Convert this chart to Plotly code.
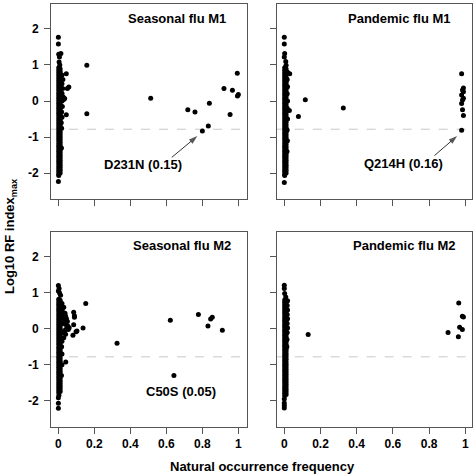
import plotly.graph_objects as go

W, H = 473, 474

panel_titles = ["Seasonal flu M1", "Pandemic flu M1", "Seasonal flu M2", "Pandemic flu M2"]
x_tick_vals = [0, 0.2, 0.4, 0.6, 0.8, 1]
x_tick_text = ["0", "0.2", "0.4", "0.6", "0.8", "1"]
y_tick_vals = [-2, -1, 0, 1, 2]
y_tick_text = ["-2", "-1", "0", "1", "2"]
threshold = -0.78
x_title = "Natural occurrence frequency"
y_title = "Log10 RF index<sub>max</sub>"

# (natural occurrence frequency, log10 RF index max)
seasonal_m1 = [
    (0.0, 1.77), (0.0, 1.58), (0.002, 1.30), (0.014, 1.32), (0.006, 1.22), (0.004, 1.08), (0.008, 1.00),
    (0.002, 0.92), (0.002, 0.85), (0.002, 0.78), (0.002, 0.71), (0.002, 0.64), (0.002, 0.57), (0.002, 0.50),
    (0.002, 0.43), (0.002, 0.36), (0.002, 0.29), (0.002, 0.22), (0.002, 0.15), (0.002, 0.08), (0.002, 0.01),
    (0.002, -0.06), (0.002, -0.13), (0.002, -0.20), (0.002, -0.27), (0.002, -0.34), (0.002, -0.41),
    (0.002, -0.48), (0.002, -0.55), (0.002, -0.62), (0.002, -0.69), (0.002, -0.76), (0.002, -0.83),
    (0.002, -0.90), (0.002, -0.97), (0.002, -1.04), (0.002, -1.11), (0.002, -1.18), (0.002, -1.25),
    (0.002, -1.32), (0.002, -1.39), (0.002, -1.46), (0.002, -1.53), (0.002, -1.60), (0.002, -1.67),
    (0.002, -1.74), (0.002, -1.81), (0.002, -1.88), (0.002, -1.95), (0.002, -2.02), (0.002, -2.06),
    (0.010, 0.89), (0.010, 0.81), (0.010, 0.74), (0.010, 0.66), (0.010, 0.59), (0.010, 0.52), (0.010, 0.46),
    (0.010, 0.39), (0.010, 0.32), (0.010, 0.25), (0.010, 0.18), (0.010, 0.11), (0.010, 0.04), (0.010, -0.03),
    (0.010, -0.10), (0.010, -0.17), (0.010, -0.24), (0.010, -0.31), (0.010, -0.38), (0.010, -0.45),
    (0.010, -0.52), (0.010, -0.59), (0.010, -0.66), (0.010, -0.73), (0.010, -0.80), (0.010, -0.87),
    (0.010, -0.94), (0.010, -1.01), (0.010, -1.08), (0.010, -1.15), (0.010, -1.22), (0.010, -1.29),
    (0.010, -1.36), (0.010, -1.43), (0.010, -1.50), (0.010, -1.57), (0.010, -1.64), (0.010, -1.71),
    (0.010, -1.78), (0.010, -1.85), (0.010, -1.92), (0.010, -1.99),
    (0.020, 0.72), (0.025, 0.60), (0.020, 0.48), (0.024, 0.35), (0.020, 0.22), (0.026, 0.12), (0.020, 0.00),
    (0.022, -0.15), (0.018, -0.30), (0.020, -0.45), (0.016, -0.60), (0.018, -0.75),
    (0.044, 0.76), (0.058, 0.39), (0.050, 0.35), (0.035, 0.07), (0.028, 0.04), (0.044, -0.38),
    (0.017, -1.30), (0.0, -2.23),
    (0.158, 0.99), (0.158, -0.35), (0.513, 0.075), (0.719, -0.24), (0.759, -0.30), (0.839, -0.06),
    (0.833, -0.69), (0.800, -0.83), (0.920, 0.35), (0.967, 0.30), (0.994, 0.77), (0.995, 0.14),
    (1.0, 0.18), (0.954, -0.37),
]

pandemic_m1 = [
    (0.0, 1.77), (0.0, 1.58), (0.002, 1.32), (0.0, 1.22), (0.008, 1.10), (0.010, 0.99),
    (0.002, 0.92), (0.002, 0.85), (0.002, 0.78), (0.002, 0.71), (0.002, 0.64), (0.002, 0.57), (0.002, 0.50),
    (0.002, 0.43), (0.002, 0.36), (0.002, 0.29), (0.002, 0.22), (0.002, 0.15), (0.002, 0.08), (0.002, 0.01),
    (0.002, -0.06), (0.002, -0.13), (0.002, -0.20), (0.002, -0.27), (0.002, -0.34), (0.002, -0.41),
    (0.002, -0.48), (0.002, -0.55), (0.002, -0.62), (0.002, -0.69), (0.002, -0.76), (0.002, -0.83),
    (0.002, -0.90), (0.002, -0.97), (0.002, -1.04), (0.002, -1.11), (0.002, -1.18), (0.002, -1.25),
    (0.002, -1.32), (0.002, -1.39), (0.002, -1.46), (0.002, -1.53), (0.002, -1.60), (0.002, -1.67),
    (0.002, -1.74), (0.002, -1.81), (0.002, -1.88), (0.002, -1.95), (0.002, -2.02), (0.002, -2.06),
    (0.010, 0.89), (0.010, 0.81), (0.010, 0.74), (0.010, 0.66), (0.010, 0.59), (0.010, 0.52), (0.010, 0.46),
    (0.010, 0.39), (0.010, 0.32), (0.010, 0.25), (0.010, 0.18), (0.010, 0.11), (0.010, 0.04), (0.010, -0.03),
    (0.010, -0.10), (0.010, -0.17), (0.010, -0.24), (0.010, -0.31), (0.010, -0.38), (0.010, -0.45),
    (0.010, -0.52), (0.010, -0.59), (0.010, -0.66), (0.010, -0.73), (0.010, -0.80), (0.010, -0.87),
    (0.010, -0.94), (0.010, -1.01), (0.010, -1.08), (0.010, -1.15), (0.010, -1.22), (0.010, -1.29),
    (0.010, -1.36), (0.010, -1.43), (0.010, -1.50), (0.010, -1.57), (0.010, -1.64), (0.010, -1.71),
    (0.010, -1.78), (0.010, -1.85), (0.010, -1.92), (0.010, -1.99),
    (0.018, 0.80), (0.016, 0.60), (0.018, 0.40), (0.016, 0.20), (0.018, 0.00), (0.016, -0.20),
    (0.018, -0.50), (0.016, -0.80), (0.017, -1.10), (0.015, -1.40),
    (0.030, 0.76), (0.028, -0.26), (0.116, 0.04), (0.078, -0.43), (0.326, -0.19), (0.0, -2.26),
    (0.980, 0.76), (0.990, 0.36), (0.985, 0.31), (0.990, 0.26), (0.980, 0.17), (0.990, 0.08),
    (0.985, 0.03), (0.980, -0.07), (0.985, -0.24), (0.990, -0.40), (0.980, -0.81),
]

seasonal_m2 = [
    (0.0, 1.20), (0.004, 1.12), (0.006, 1.00), (0.012, 0.93), (0.0, 1.05),
    (0.002, 0.82), (0.002, 0.75), (0.002, 0.68), (0.002, 0.61), (0.002, 0.54), (0.002, 0.47), (0.002, 0.40),
    (0.002, 0.33), (0.002, 0.26), (0.002, 0.19), (0.002, 0.12), (0.002, 0.05), (0.002, -0.02), (0.002, -0.09),
    (0.002, -0.16), (0.002, -0.23), (0.002, -0.30), (0.002, -0.37), (0.002, -0.44), (0.002, -0.51),
    (0.002, -0.58), (0.002, -0.65), (0.002, -0.72), (0.002, -0.79), (0.002, -0.86), (0.002, -0.93),
    (0.002, -1.00), (0.002, -1.07), (0.002, -1.14), (0.002, -1.21), (0.002, -1.28), (0.002, -1.35),
    (0.002, -1.42), (0.002, -1.49), (0.002, -1.56), (0.002, -1.63), (0.002, -1.70), (0.002, -1.77),
    (0.010, 0.79), (0.010, 0.71), (0.010, 0.64), (0.010, 0.57), (0.010, 0.50), (0.010, 0.43), (0.010, 0.36),
    (0.010, 0.29), (0.010, 0.22), (0.010, 0.15), (0.010, 0.08), (0.010, 0.01), (0.010, -0.06), (0.010, -0.13),
    (0.010, -0.20), (0.010, -0.27), (0.010, -0.34), (0.010, -0.41), (0.010, -0.48), (0.010, -0.55),
    (0.010, -0.62), (0.010, -0.69), (0.010, -0.76), (0.010, -0.83), (0.010, -0.90), (0.010, -0.97),
    (0.010, -1.04), (0.010, -1.11), (0.010, -1.18), (0.010, -1.25), (0.010, -1.32), (0.010, -1.39),
    (0.010, -1.46), (0.010, -1.53), (0.010, -1.60), (0.010, -1.67), (0.010, -1.74),
    (0.020, 0.70), (0.022, 0.55), (0.025, 0.45), (0.030, 0.38), (0.037, 0.43), (0.040, 0.35),
    (0.045, 0.28), (0.050, 0.20), (0.035, 0.22), (0.028, 0.15), (0.040, 0.12), (0.052, 0.08),
    (0.060, 0.03), (0.045, 0.00), (0.035, -0.05), (0.055, -0.02), (0.025, -0.10), (0.040, -0.15),
    (0.030, -0.25), (0.020, -0.35), (0.018, -0.50), (0.022, 0.30), (0.020, -0.70), (0.030, 0.60),
    (0.020, -1.00),
    (0.041, -0.92), (0.017, -1.30), (0.085, 0.46), (0.089, 0.36), (0.089, 0.32), (0.085, 0.11),
    (0.081, -0.18), (0.098, -0.08), (0.103, -0.06), (0.137, 0.02), (0.152, 0.70),
    (0.0, -1.92), (0.0, -2.07), (0.0, -2.21), (0.003, -1.85),
    (0.326, -0.40), (0.622, 0.24), (0.642, -1.30), (0.778, 0.40), (0.831, 0.08), (0.846, 0.27),
    (0.855, 0.32), (0.911, -0.04),
]

pandemic_m2 = [
    (0.0, 1.21), (0.0, 1.12), (0.002, 0.98), (0.008, 0.88),
    (0.002, 0.80), (0.002, 0.73), (0.002, 0.66), (0.002, 0.59), (0.002, 0.52), (0.002, 0.45), (0.002, 0.38),
    (0.002, 0.31), (0.002, 0.24), (0.002, 0.17), (0.002, 0.10), (0.002, 0.03), (0.002, -0.04), (0.002, -0.11),
    (0.002, -0.18), (0.002, -0.25), (0.002, -0.32), (0.002, -0.39), (0.002, -0.46), (0.002, -0.53),
    (0.002, -0.60), (0.002, -0.67), (0.002, -0.74), (0.002, -0.81), (0.002, -0.88), (0.002, -0.95),
    (0.002, -1.02), (0.002, -1.09), (0.002, -1.16), (0.002, -1.23), (0.002, -1.30), (0.002, -1.37),
    (0.002, -1.44), (0.002, -1.51), (0.002, -1.58), (0.002, -1.65), (0.002, -1.72), (0.002, -1.79),
    (0.002, -1.86),
    (0.010, 0.77), (0.010, 0.69), (0.010, 0.62), (0.010, 0.55), (0.010, 0.48), (0.010, 0.41), (0.010, 0.34),
    (0.010, 0.27), (0.010, 0.20), (0.010, 0.13), (0.010, 0.06), (0.010, -0.01), (0.010, -0.08), (0.010, -0.15),
    (0.010, -0.22), (0.010, -0.29), (0.010, -0.36), (0.010, -0.43), (0.010, -0.50), (0.010, -0.57),
    (0.010, -0.64), (0.010, -0.71), (0.010, -0.78), (0.010, -0.85), (0.010, -0.92), (0.010, -0.99),
    (0.010, -1.06), (0.010, -1.13), (0.010, -1.20), (0.010, -1.27), (0.010, -1.34), (0.010, -1.41),
    (0.010, -1.48), (0.010, -1.55), (0.010, -1.62), (0.010, -1.69), (0.010, -1.76), (0.010, -1.83),
    (0.018, 0.78), (0.016, 0.65), (0.018, 0.52), (0.016, 0.40), (0.018, 0.28), (0.016, 0.15),
    (0.018, 0.02), (0.016, -0.10), (0.015, -0.30), (0.014, -0.50),
    (0.0, -1.95), (0.0, -2.06), (0.0, -2.13), (0.0, -2.20),
    (0.132, -0.16), (0.905, -0.10), (0.964, 0.72), (0.984, 0.35), (0.990, 0.33), (0.969, 0.04),
    (0.984, -0.02), (0.962, -0.22),
]

panels_data = [seasonal_m1, pandemic_m1, seasonal_m2, pandemic_m2]

# labelled mutations: (panel index, text, label freq, label value)
mutation_labels = [(0, "D231N (0.15)", 0.468, -1.76), (1, "Q214H (0.16)", 0.66, -1.72),
                   (2, "C50S (0.05)", 0.683, -1.73)]
# pointer arrows: (panel index, tail freq, tail value, head freq, head value)
pointer_arrows = [(0, 0.63, -1.56, 0.772, -0.97), (1, 0.83, -1.51, 0.955, -0.97)]

# plot-area pixel boxes: (left, right, top, bottom)
boxes = [(51, 247, 4, 198.5), (276.7, 472.3, 4, 198.5), (51, 247, 232, 427), (276.7, 472.3, 232, 427)]
x_ranges = [[-0.041, 1.048], [-0.042, 1.039], [-0.041, 1.048], [-0.042, 1.039]]
y_ranges = [[-2.7, 2.69], [-2.7, 2.69], [-2.73, 2.69], [-2.73, 2.69]]

FONT = "Liberation Sans, Arial, sans-serif"
LINE = "#555555"


def axis_names(i):
    n = i + 1
    return ("x" if n == 1 else f"x{n}"), ("y" if n == 1 else f"y{n}")


fig = go.Figure()
layout = dict(
    width=W, height=H, margin=dict(l=0, r=0, t=0, b=0),
    paper_bgcolor="white", plot_bgcolor="white", showlegend=False,
    font=dict(family=FONT, size=12, color="black"),
)
shapes = []
annotations = []
for i, pts in enumerate(panels_data):
    n = i + 1
    xa, ya = axis_names(i)
    fig.add_trace(go.Scatter(
        x=[p[0] for p in pts], y=[p[1] for p in pts], mode="markers",
        marker=dict(size=5, color="black", line=dict(width=0)),
        xaxis=xa, yaxis=ya, hoverinfo="skip",
    ))
    l, r, t, b = boxes[i]
    top_row = i < 2
    left_col = i % 2 == 0
    layout[f"xaxis{'' if n == 1 else n}"] = dict(
        domain=[l / W, r / W], range=x_ranges[i], anchor=ya,
        showline=True, mirror=True, linecolor=LINE, linewidth=1,
        ticks="outside", ticklen=6, tickcolor=LINE, tickwidth=1,
        tickvals=x_tick_vals, ticktext=x_tick_text, showticklabels=not top_row,
        tickfont=dict(family=FONT, size=12, color="black", weight="bold"),
        showgrid=False, zeroline=False,
    )
    layout[f"yaxis{'' if n == 1 else n}"] = dict(
        domain=[1 - b / H, 1 - t / H], range=y_ranges[i], anchor=xa,
        showline=True, mirror=True, linecolor=LINE, linewidth=1,
        ticks="outside", ticklen=6, tickcolor=LINE, tickwidth=1,
        tickvals=y_tick_vals, ticktext=y_tick_text, showticklabels=left_col,
        tickfont=dict(family=FONT, size=12, color="black", weight="bold"),
        ticklabelstandoff=3,
        showgrid=False, zeroline=False,
    )
    shapes.append(dict(type="line", xref=f"{xa} domain", yref=ya, x0=0, x1=1,
                       y0=threshold, y1=threshold,
                       line=dict(color="#c8c8c8", width=1, dash="dash"), layer="below"))
    annotations.append(dict(
        xref="paper", yref="paper", x=(r - 19 if top_row else r - 14) / W,
        y=1 - ((t + 14.5) if top_row else (t + 13)) / H,
        xanchor="right", yanchor="middle", showarrow=False, text=panel_titles[i],
        font=dict(family=FONT, size=13, color="black", weight="bold"),
    ))

for pi, txt, lx, ly in mutation_labels:
    xa, ya = axis_names(pi)
    annotations.append(dict(xref=xa, yref=ya, x=lx, y=ly, text=txt, showarrow=False,
                            xanchor="center", yanchor="middle",
                            font=dict(family=FONT, size=13, color="black", weight="bold")))

for pi, tx, ty, hx, hy in pointer_arrows:
    xa, ya = axis_names(pi)
    fig.add_trace(go.Scatter(
        x=[tx, hx], y=[ty, hy], mode="lines+markers", xaxis=xa, yaxis=ya, hoverinfo="skip",
        line=dict(color="#333333", width=1),
        marker=dict(symbol="arrow", size=[0, 9], angleref="previous", color="#111111",
                    line=dict(width=0)),
    ))

annotations.append(dict(xref="paper", yref="paper", x=262 / W, y=1 - 466 / H, text=x_title,
                        showarrow=False, xanchor="center", yanchor="middle",
                        font=dict(family=FONT, size=13, color="black", weight="bold")))
annotations.append(dict(xref="paper", yref="paper", x=10 / W, y=1 - 237 / H, text=y_title,
                        showarrow=False, xanchor="center", yanchor="middle", textangle=-90,
                        font=dict(family=FONT, size=13, color="black", weight="bold")))

layout["shapes"] = shapes
layout["annotations"] = annotations
fig.update_layout(**layout)
fig.write_html(
    "out.html",
    config={"displayModeBar": False},
    post_script="document.body.style.margin='0';document.body.style.overflow='hidden';",
)
